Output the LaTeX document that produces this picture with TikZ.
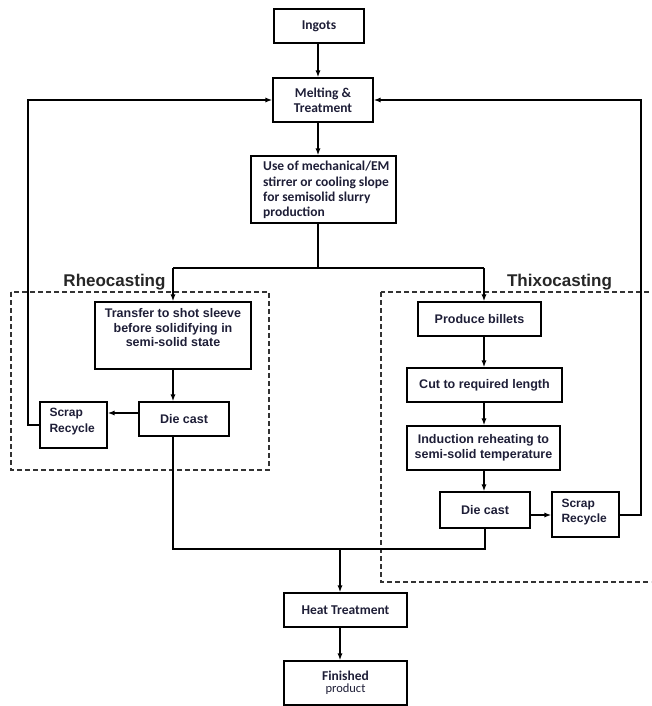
\documentclass[tikz,border=0pt]{standalone}
\usepackage{fontspec}
\setmainfont{Liberation Sans}
\newfontfamily\calib{Carlito}
\usetikzlibrary{arrows.meta}
\definecolor{txt}{RGB}{30,30,55}
\tikzset{
  box/.style={draw=black, line width=1.1pt, inner sep=0pt, text=txt},
  cbox/.style={box, font=\calib\bfseries\fontsize{13.5}{15}\selectfont, align=center},
  abox/.style={box, font=\bfseries\fontsize{12.5}{14.5}\selectfont, align=center},
  flow/.style={line width=1.8pt, -{Latex[length=7pt,width=5pt]}},
  thin/.style={line width=1.1pt},
  feed/.style={line width=2pt, -{Latex[length=7pt,width=5pt]}},
  dbox/.style={draw=black!80, line width=1.1pt, dash pattern=on 5pt off 3pt},
  title/.style={font=\bfseries\fontsize{17}{19}\selectfont, text=black!85, inner sep=0pt}
}
\begin{document}
\begin{tikzpicture}[x=1pt,y=-1pt]
\useasboundingbox (0,0) rectangle (651,706);
% dashed group boxes
\draw[dbox] (11,292) rectangle (269,470);
\begin{scope}
\clip (0,0) rectangle (651,706);
\draw[dbox] (381,292) rectangle (665,582);
\end{scope}
\node[title] (rheo) at (114.5,282) {Rheocasting};
\node[title] (thixo) at (559.5,282) {Thixocasting};

% boxes
\node[cbox, minimum width=90pt, minimum height=34pt] (ingots) at (319,26) {Ingots};
\node[cbox, minimum width=100pt, minimum height=44pt] (melt) at (323,100) {Melting \&\\Treatment};
\node[box, minimum width=145pt, minimum height=67pt] (mech) at (323.5,189.5) {};
\node[font=\calib\bfseries\fontsize{13.5}{15.3}\selectfont, text=txt, align=left, anchor=west, inner sep=0pt] (mecht) at (263,190) {Use of mechanical/EM\\stirrer or cooling slope\\for semisolid slurry\\production};

\node[box, minimum width=156pt, minimum height=67pt] (transfer) at (173,335.5) {};
\node[abox, anchor=north, draw=none] (transfert) at (173,308) {Transfer to shot sleeve\\before solidifying in\\semi-solid state};
\node[abox, minimum width=90pt, minimum height=34pt] (rdie) at (184,419) {Die cast};
\node[box, minimum width=67pt, minimum height=46pt] (rscrap) at (73.5,425) {};
\node[abox, draw=none, align=left, anchor=north west, font=\bfseries\fontsize{12}{15.5}\selectfont] (rscrapt) at (49,408) {Scrap\\Recycle};

\node[abox, minimum width=123pt, minimum height=34pt] (billets) at (479.5,319) {Produce billets};
\node[abox, minimum width=155pt, minimum height=34pt] (cut) at (484.5,385) {Cut to required length};
\node[abox, minimum width=153pt, minimum height=44pt, font=\bfseries\fontsize{12.5}{15}\selectfont] (induct) at (483.5,448) {Induction reheating to\\semi-solid temperature};
\node[abox, minimum width=90pt, minimum height=36pt] (tdie) at (485,510) {Die cast};
\node[box, minimum width=67pt, minimum height=45pt] (tscrap) at (585.5,514.5) {};
\node[abox, draw=none, align=left, anchor=north west, font=\bfseries\fontsize{12}{15}\selectfont] (tscrapt) at (561,499) {Scrap\\Recycle};

\node[cbox, minimum width=123pt, minimum height=34pt] (heat) at (345.5,610) {Heat Treatment};
\node[box, minimum width=123pt, minimum height=44pt, align=center] (fin) at (345.5,683) {{\calib\bfseries\fontsize{13.5}{12}\selectfont Finished}\\{\calib\fontsize{12.5}{12}\selectfont product}};

% coordinates
\coordinate (split) at (318,268);
\coordinate (rl) at (173,268);
\coordinate (tl) at (484,268);
\coordinate (jl) at (173,549);
\coordinate (jr) at (485,549);
\coordinate (jm) at (340,549);

% main flow
\draw[flow] (318,0 |- ingots.south) -- (318,0 |- melt.north);
\draw[flow] (318,0 |- melt.south) -- (318,0 |- mech.north);
\draw[thin] (318,0 |- mech.south) -- (split);
\draw[thin] (rl) -- (tl);
\draw[flow] (rl) -- (173,0 |- transfer.north);
\draw[flow] (tl) -- (484,0 |- billets.north);
\draw[flow] (173,0 |- transfer.south) -- (173,0 |- rdie.north);
\draw[flow] (484,0 |- billets.south) -- (484,0 |- cut.north);
\draw[flow] (484,0 |- cut.south) -- (484,0 |- induct.north);
\draw[flow] (484,0 |- induct.south) -- (484,0 |- tdie.north);
\draw[flow] (rdie.west |- 0,413) -- (rscrap.east |- 0,413);
\draw[flow] (tdie.east |- 0,515) -- (tscrap.west |- 0,515);
% feedback
\draw[feed] (rscrap.west |- 0,425) -- (28,425) -- (28,100) -- (melt.west |- 0,100);
\draw[feed] (tscrap.east |- 0,515) -- (641,515) -- (641,100) -- (melt.east |- 0,100);
% merge
\draw[thin] (173,0 |- rdie.south) -- (jl) -- (jr) -- (485,0 |- tdie.south);
\draw[flow] (jm) -- (340,0 |- heat.north);
\draw[flow] (340,0 |- heat.south) -- (340,0 |- fin.north);
\end{tikzpicture}
\end{document}
